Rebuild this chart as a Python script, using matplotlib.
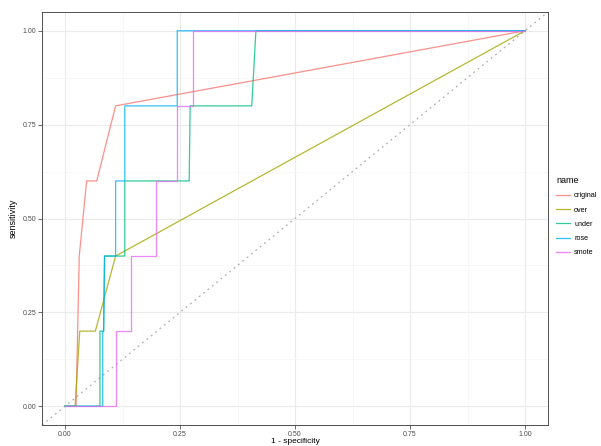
import matplotlib
matplotlib.use('Agg')
import matplotlib.pyplot as plt
from matplotlib.lines import Line2D

plt.rcParams['font.family'] = ['Liberation Sans', 'DejaVu Sans']

# ROC paths per resampling method: (1 - specificity, sensitivity)
names = ['original', 'over', 'under', 'rose', 'smote']
colors = ['#F8766D', '#A3A500', '#00BF7D', '#00B0F6', '#E76BF3']

original_fpr = [0.0, 0.024, 0.031, 0.047, 0.069, 0.110, 1.0]
original_tpr = [0.0, 0.0, 0.4, 0.6, 0.6, 0.8, 1.0]

over_fpr = [0.0, 0.022, 0.032, 0.066, 0.110, 1.0]
over_tpr = [0.0, 0.0, 0.2, 0.2, 0.4, 1.0]

under_fpr = [0.0, 0.076, 0.076, 0.084, 0.086, 0.130, 0.130, 0.270, 0.272, 0.406, 0.415, 1.0]
under_tpr = [0.0, 0.0, 0.2, 0.2, 0.4, 0.4, 0.6, 0.6, 0.8, 0.8, 1.0, 1.0]

rose_fpr = [0.0, 0.082, 0.082, 0.084, 0.086, 0.110, 0.110, 0.130, 0.130, 0.244, 0.244, 1.0]
rose_tpr = [0.0, 0.0, 0.2, 0.2, 0.4, 0.4, 0.6, 0.6, 0.8, 0.8, 1.0, 1.0]

smote_fpr = [0.0, 0.110, 0.110, 0.143, 0.143, 0.197, 0.197, 0.244, 0.244, 0.278, 0.278, 1.0]
smote_tpr = [0.0, 0.0, 0.2, 0.2, 0.4, 0.4, 0.6, 0.6, 0.8, 0.8, 1.0, 1.0]

curves = [(original_fpr, original_tpr), (over_fpr, over_tpr),
          (under_fpr, under_tpr), (rose_fpr, rose_tpr), (smote_fpr, smote_tpr)]

major_ticks = [0.0, 0.25, 0.5, 0.75, 1.0]
minor_ticks = [0.125, 0.375, 0.625, 0.875]
tick_labels = ['0.00', '0.25', '0.50', '0.75', '1.00']

fig = plt.figure(figsize=(6.01, 4.46), dpi=100)
ax = fig.add_axes([42 / 601, 21 / 446, 506 / 601, 413 / 446])

ax.set_xlim(-0.05, 1.05)
ax.set_ylim(-0.05, 1.05)

# theme_bw style grid
for t in major_ticks:
    ax.axvline(t, color='#EBEBEB', lw=0.8, zorder=0)
    ax.axhline(t, color='#EBEBEB', lw=0.8, zorder=0)
for t in minor_ticks:
    ax.axvline(t, color='#F3F3F3', lw=0.4, zorder=0)
    ax.axhline(t, color='#F3F3F3', lw=0.4, zorder=0)

ax.axline((0, 0), (1, 1), color='#B0B0B0', lw=0.9, ls=(0, (1.5, 3)), zorder=1)

for (fpr, tpr), col in zip(curves, colors):
    ax.plot(fpr, tpr, color=col, lw=0.9, alpha=0.8, zorder=2)

ax.set_xticks(major_ticks)
ax.set_yticks(major_ticks)
ax.set_xticklabels(tick_labels)
ax.set_yticklabels(tick_labels)
ax.tick_params(axis='both', labelsize=5, colors='#333333', labelcolor='#4D4D4D',
               length=2.8, width=0.5, pad=1.5)
for s in ax.spines.values():
    s.set_edgecolor('#333333')
    s.set_linewidth(0.6)

ax.set_xlabel('1 - specificity', fontsize=6, va='center')
ax.xaxis.set_label_coords(0.5, -0.041)
ax.set_ylabel('sensitivity', fontsize=6.5, labelpad=3)

handles = [Line2D([], [], color=c, lw=0.9, alpha=0.8) for c in colors]
leg = ax.legend(handles, names, title='name', loc='upper left',
                bbox_to_anchor=(556 / 601, 1 - 176 / 446), bbox_transform=fig.transFigure,
                frameon=False, fontsize=5.2, title_fontsize=6.5, handlelength=2.0,
                handletextpad=0.5, labelspacing=1.0, borderaxespad=0,
                borderpad=0, alignment='left')

fig.savefig('out.png', dpi=100, facecolor='white')
